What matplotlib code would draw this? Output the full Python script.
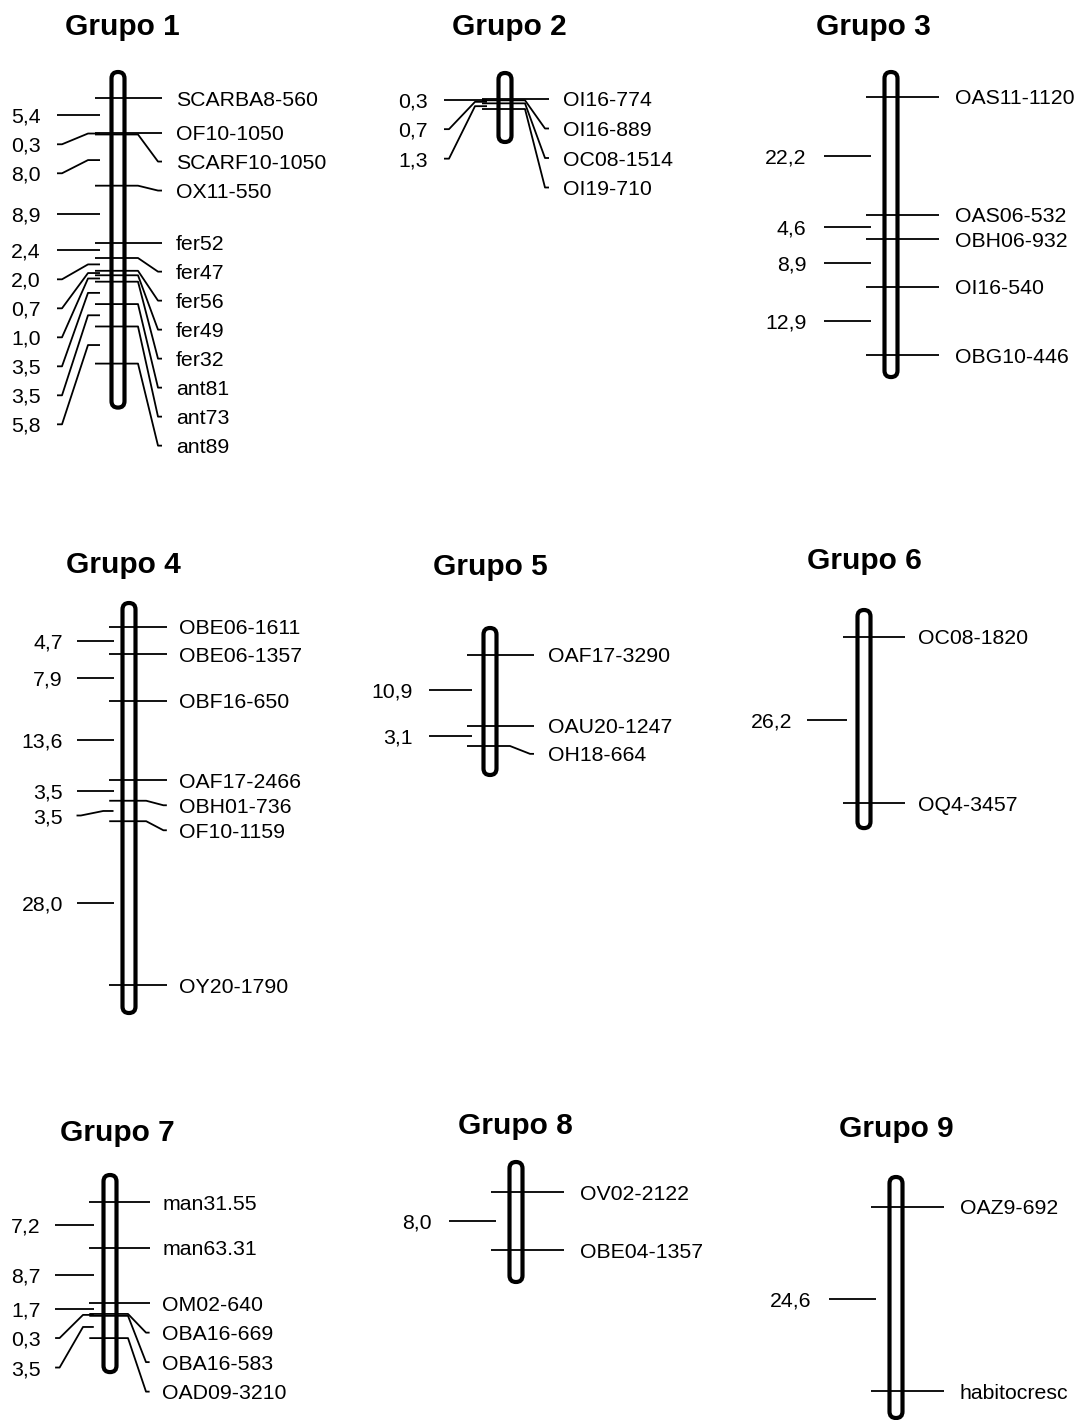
import numpy as np
import matplotlib.pyplot as plt
from matplotlib.patches import FancyBboxPatch

plt.rcParams['font.family'] = ['Liberation Sans', 'DejaVu Sans']

# Marcadores e distâncias (cM) de cada grupo de ligação
titles = ["Grupo 1", "Grupo 2", "Grupo 3", "Grupo 4", "Grupo 5",
          "Grupo 6", "Grupo 7", "Grupo 8", "Grupo 9"]

g1_markers = ["SCARBA8-560", "OF10-1050", "SCARF10-1050", "OX11-550", "fer52",
              "fer47", "fer56", "fer49", "fer32", "ant81", "ant73", "ant89"]
g1_dist = [5.4, 0.3, 8.0, 8.9, 2.4, 2.0, 0.7, 1.0, 3.5, 3.5, 5.8]

g2_markers = ["OI16-774", "OI16-889", "OC08-1514", "OI19-710"]
g2_dist = [0.3, 0.7, 1.3]

g3_markers = ["OAS11-1120", "OAS06-532", "OBH06-932", "OI16-540", "OBG10-446"]
g3_dist = [22.2, 4.6, 8.9, 12.9]

g4_markers = ["OBE06-1611", "OBE06-1357", "OBF16-650", "OAF17-2466",
              "OBH01-736", "OF10-1159", "OY20-1790"]
g4_dist = [4.7, 7.9, 13.6, 3.5, 3.5, 28.0]

g5_markers = ["OAF17-3290", "OAU20-1247", "OH18-664"]
g5_dist = [10.9, 3.1]

g6_markers = ["OC08-1820", "OQ4-3457"]
g6_dist = [26.2]

g7_markers = ["man31.55", "man63.31", "OM02-640", "OBA16-669",
              "OBA16-583", "OAD09-3210"]
g7_dist = [7.2, 8.7, 1.7, 0.3, 3.5]

g8_markers = ["OV02-2122", "OBE04-1357"]
g8_dist = [8.0]

g9_markers = ["OAZ9-692", "habitocresc"]
g9_dist = [24.6]

groups = [(g1_markers, g1_dist), (g2_markers, g2_dist), (g3_markers, g3_dist),
          (g4_markers, g4_dist), (g5_markers, g5_dist), (g6_markers, g6_dist),
          (g7_markers, g7_dist), (g8_markers, g8_dist), (g9_markers, g9_dist)]

# posição no desenho (pixels): centro x, y do 1º marcador, px por cM,
# folga topo/base, escala horizontal, espaço mínimo entre rótulos, título
layout = [
    (118, 98, 6.40, 26, 44, 1.00, 29.0, 122, 24),
    (505, 99, 4.35, 26, 33, 1.00, 29.5, 509, 24),
    (891, 97, 5.31, 25, 22, 1.10, 24.0, 873, 24),
    (129, 627, 5.85, 24, 28, 0.86, 25.0, 123, 562),
    (490, 655, 6.50, 27, 29, 1.00, 28.0, 490, 564),
    (864, 637, 6.34, 27, 25, 0.93, 28.0, 864, 558),
    (110, 1202, 6.36, 27, 34, 0.90, 29.5, 117, 1130),
    (516, 1192, 7.25, 30, 32, 1.10, 29.0, 515, 1123),
    (896, 1207, 7.48, 30, 27, 1.10, 29.0, 896, 1126),
]

LW = 1.3
FS = 15.3


def spread(ys, gap):
    """ Empurra os rótulos para baixo para não se sobreporem """
    out = []
    for y in ys:
        if out and y < out[-1] + gap:
            y = out[-1] + gap
        out.append(y)
    return out


def connector(ax, xs, y, ly):
    x0, x1, x2, x3 = xs
    if abs(ly - y) < 0.5:
        ax.plot([x0, x3], [y, y], color="black", lw=LW, zorder=3,
                solid_capstyle="butt")
    else:
        ax.plot([x0, x1, x2, x3], [y, y, ly, ly], color="black", lw=LW,
                zorder=3, solid_capstyle="butt")


fig = plt.figure(figsize=(10.85, 14.2), dpi=100)
ax = fig.add_axes([0, 0, 1, 1])
ax.set_xlim(0, 1085)
ax.set_ylim(1420, 0)
ax.axis("off")

for title, (markers, dist), lay in zip(titles, groups, layout):
    cx, y0, ppc, pt, pb, hs, gap, tx, ty = lay
    pos = np.concatenate([[0], np.cumsum(dist)])
    ys = y0 + pos * ppc

    # cromossomo
    w = 13
    top, bot = ys[0] - pt, ys[-1] + pb
    chrom = FancyBboxPatch((cx - w / 2, top), w, bot - top,
                           boxstyle=f"round,pad=0,rounding_size={w / 2}",
                           facecolor="white", edgecolor="black", lw=3.0,
                           zorder=2)
    ax.add_patch(chrom)

    # marcadores à direita
    label_y = spread(ys, gap)
    for name, y, ly in zip(markers, ys, label_y):
        xs = [cx - 23 * hs, cx + 20 * hs, cx + 40 * hs, cx + 44 * hs]
        connector(ax, xs, y, ly)
        ax.text(cx + 58 * hs, ly, name, ha="left", va="center_baseline",
                fontsize=FS)

    # distâncias à esquerda
    mids = (ys[:-1] + ys[1:]) / 2
    dist_y = spread(mids, gap)
    for d, y, ly in zip(dist, mids, dist_y):
        xs = [cx - 18 * hs, cx - 30 * hs, cx - 56 * hs, cx - 61 * hs]
        connector(ax, xs, y, ly)
        ax.text(cx - 77 * hs, ly, f"{d:.1f}".replace(".", ","), ha="right",
                va="center_baseline", fontsize=FS)

    ax.text(tx, ty, title, ha="center", va="center_baseline",
            fontsize=21.5, fontweight="bold")

fig.savefig("out.png", dpi=100)
